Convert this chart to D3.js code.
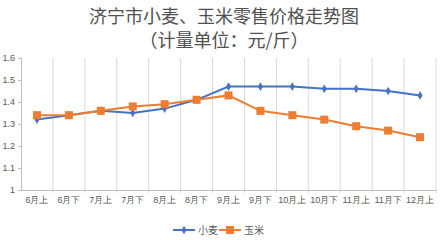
<!DOCTYPE html>
<html>
<head>
<meta charset="utf-8">
<script src="https://cdn.jsdelivr.net/npm/d3@7"></script>
<style>
  body { margin: 0; background: #fff; }
  svg { display: block; font-family: "Noto Sans CJK SC", "DejaVu Sans", sans-serif; }
</style>
</head>
<body>
<div id="chart"></div>
<script>
const periods = ["6月上", "6月下", "7月上", "7月下", "8月上", "8月下", "9月上", "9月下", "10月上", "10月下", "11月上", "11月下", "12月上"];
const wheat = [1.32, 1.34, 1.36, 1.35, 1.37, 1.41, 1.47, 1.47, 1.47, 1.46, 1.46, 1.45, 1.43];
const corn = [1.34, 1.34, 1.36, 1.38, 1.39, 1.41, 1.43, 1.36, 1.34, 1.32, 1.29, 1.27, 1.24];
const yTicks = [1, 1.1, 1.2, 1.3, 1.4, 1.5, 1.6];
const seriesNames = ["小麦", "玉米"];

const W = 448, H = 240;
const margin = { top: 58, right: 12, bottom: 50, left: 21 };
const width = W - margin.left - margin.right;
const height = H - margin.top - margin.bottom;

const svg = d3.select("#chart").append("svg")
  .attr("width", W)
  .attr("height", H);

// Title
svg.append("text")
  .attr("x", W / 2)
  .attr("y", 23)
  .attr("text-anchor", "middle")
  .style("font-size", "18px")
  .style("fill", "#505050")
  .text("济宁市小麦、玉米零售价格走势图");
svg.append("text")
  .attr("x", W / 2)
  .attr("y", 47)
  .attr("text-anchor", "middle")
  .style("font-size", "18px")
  .style("fill", "#505050")
  .text("（计量单位：元/斤）");

const g = svg.append("g")
  .attr("transform", `translate(${margin.left},${margin.top})`);

const x = d3.scaleBand().domain(periods).range([0, width]);
const y = d3.scaleLinear().domain([1, 1.6]).range([height, 0]);

// Vertical gridlines at category boundaries
const bounds = periods.map(p => x(p)).concat([width]);
g.selectAll(".vgrid")
  .data(bounds.slice(1))
  .enter().append("line")
  .attr("x1", d => d).attr("x2", d => d)
  .attr("y1", 0).attr("y2", height + 3)
  .attr("stroke", "#d9d9d9")
  .attr("stroke-width", 1);

// Y-axis
const yAxis = g.append("g")
  .call(d3.axisLeft(y).tickValues(yTicks).tickSize(3).tickPadding(3).tickFormat(d3.format("")));
yAxis.select(".domain").attr("stroke", "#bfbfbf");
yAxis.selectAll(".tick line").attr("stroke", "#bfbfbf");
yAxis.selectAll("text")
  .style("font-size", "9px")
  .style("fill", "#595959");

// X-axis
const xAxis = g.append("g")
  .attr("transform", `translate(0,${height})`)
  .call(d3.axisBottom(x).tickSize(0).tickPadding(7));
xAxis.select(".domain").attr("stroke", "#bfbfbf");
xAxis.selectAll("text")
  .style("font-size", "9px")
  .style("fill", "#595959");

const colors = ["#4472C4", "#ED7D31"];
const line = d3.line()
  .x((d, i) => x(periods[i]) + x.bandwidth() / 2)
  .y(d => y(d));

[wheat, corn].forEach((vals, si) => {
  g.append("path")
    .datum(vals)
    .attr("fill", "none")
    .attr("stroke", colors[si])
    .attr("stroke-width", 2)
    .attr("d", line);
});

// Wheat markers: diamonds
g.selectAll(".wheat-pt")
  .data(wheat)
  .enter().append("path")
  .attr("d", d3.symbol(d3.symbolDiamond, 22))
  .attr("transform", (d, i) => `translate(${x(periods[i]) + x.bandwidth() / 2},${y(d)})`)
  .attr("fill", colors[0]);

// Corn markers: squares
g.selectAll(".corn-pt")
  .data(corn)
  .enter().append("rect")
  .attr("x", (d, i) => x(periods[i]) + x.bandwidth() / 2 - 4)
  .attr("y", d => y(d) - 4)
  .attr("width", 8)
  .attr("height", 8)
  .attr("fill", colors[1]);

// Legend
const legend = svg.append("g").attr("transform", "translate(173,230)");
seriesNames.forEach((name, i) => {
  const lg = legend.append("g").attr("transform", `translate(${i * 46},0)`);
  lg.append("line")
    .attr("x1", 0).attr("x2", 22)
    .attr("y1", 0).attr("y2", 0)
    .attr("stroke", colors[i])
    .attr("stroke-width", 2);
  if (i === 0) {
    lg.append("path")
      .attr("d", d3.symbol(d3.symbolDiamond, 22))
      .attr("transform", "translate(11,0)")
      .attr("fill", colors[i]);
  } else {
    lg.append("rect")
      .attr("x", 7).attr("y", -4)
      .attr("width", 8).attr("height", 8)
      .attr("fill", colors[i]);
  }
  lg.append("text")
    .attr("x", 25)
    .attr("y", 3.5)
    .style("font-size", "10px")
    .style("fill", "#595959")
    .text(name);
});
</script>
</body>
</html>
